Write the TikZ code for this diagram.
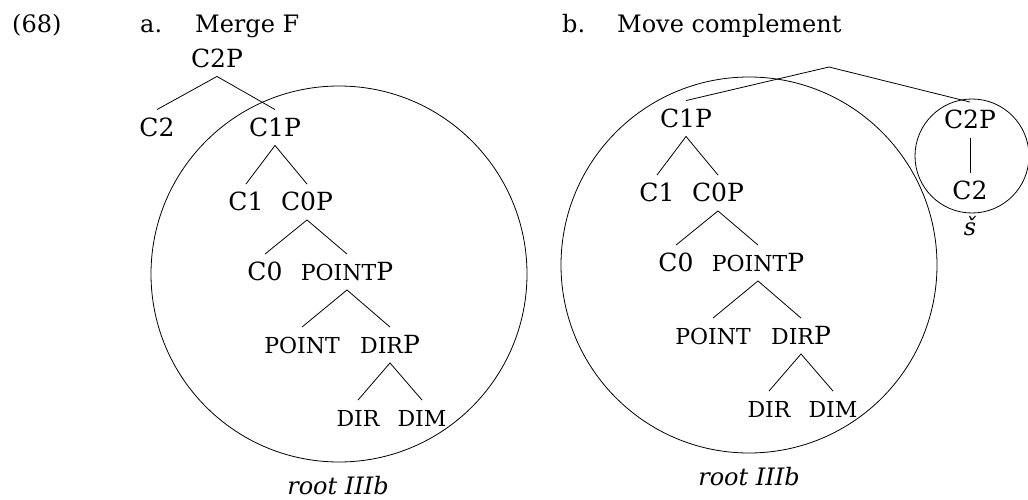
\documentclass[tikz,border=0pt]{standalone}
\usepackage{fontspec}
\setmainfont{DejaVu Serif}
\newcommand{\fsc}[1]{{\fontsize{22}{26}\selectfont #1}}

\tikzset{
  cat/.style={inner xsep=1pt, inner ysep=9pt, text height=17.5pt, text depth=0pt, font=\fontsize{25}{28}\selectfont},
  branch/.style={line width=0.8pt},
  ring/.style={line width=0.8pt}
}

\begin{document}
\begin{tikzpicture}[x=1pt,y=-1pt,font=\fontsize{24}{28}\selectfont]
        \useasboundingbox (0,0) rectangle (1028,500);
        % headings
        \node[anchor=base west,inner sep=0pt] (ex) at (12,33) {(68)};
        \node[anchor=base west,inner sep=0pt] (la) at (140,33) {a.};
        \node[anchor=base west,inner sep=0pt] (ta) at (195,33) {Merge F};
        \node[anchor=base west,inner sep=0pt] (lb) at (562,33) {b.};
        \node[anchor=base west,inner sep=0pt] (tb) at (617,33) {Move complement};
        % a. Merge F
        \node[cat] (aC2P) at (217,58.5) {C2P};
        \node[cat] (aC2) at (157,127.5) {C2};
        \node[cat] (aC1P) at (275,127.5) {C1P};
        \node[cat] (aC1) at (246,202) {C1};
        \node[cat] (aC0P) at (307,202) {C0P};
        \node[cat] (aC0) at (265,272) {C0};
        \node[cat] (aPointP) at (347,272) {\fsc{POINT}P};
        \node[cat] (aPoint) at (302,345) {\fsc{POINT}};
        \node[cat] (aDirP) at (390,345) {\fsc{DIR}P};
        \node[cat] (aDir) at (358,418) {\fsc{DIR}};
        \node[cat] (aDim) at (422,418) {\fsc{DIM}};
        \node (aRoot) at (338,486) {\itshape root IIIb};
        \draw[branch] (aC2.north) -- (aC2P.south) -- (aC1P.north);
        \draw[branch] (aC1.north) -- (aC1P.south) -- (aC0P.north);
        \draw[branch] (aC0.north) -- (aC0P.south) -- (aPointP.north);
        \draw[branch] (aPoint.north) -- (aPointP.south) -- (aDirP.north);
        \draw[branch] (aDir.north) -- (aDirP.south) -- (aDim.north);
        \draw[ring] (339,274) circle[radius=188];
        % b. Move complement
        \coordinate (bTop) at (829,67);
        \node[cat] (bC1P) at (686,118.5) {C1P};
        \node[cat] (bC1) at (657,193) {C1};
        \node[cat] (bC0P) at (718,193) {C0P};
        \node[cat] (bC0) at (676,263) {C0};
        \node[cat] (bPointP) at (758,263) {\fsc{POINT}P};
        \node[cat] (bPoint) at (713,336) {\fsc{POINT}};
        \node[cat] (bDirP) at (801,336) {\fsc{DIR}P};
        \node[cat] (bDir) at (769,409) {\fsc{DIR}};
        \node[cat] (bDim) at (833,409) {\fsc{DIM}};
        \node (bRoot) at (749,477) {\itshape root IIIb};
        \node[cat] (bC2P) at (970,120) {C2P};
        \node[cat] (bC2) at (970,191) {C2};
        \node (bS) at (970,226) {\itshape š};
        \draw[branch] (bC1P.north) -- (bTop) -- (bC2P.north);
        \draw[branch] (bC1.north) -- (bC1P.south) -- (bC0P.north);
        \draw[branch] (bC0.north) -- (bC0P.south) -- (bPointP.north);
        \draw[branch] (bPoint.north) -- (bPointP.south) -- (bDirP.north);
        \draw[branch] (bDir.north) -- (bDirP.south) -- (bDim.north);
        \draw[branch] (bC2P) -- (bC2);
        \draw[ring] (749,265) circle[radius=188];
        \draw[ring] (972,156) circle[radius=57];
      \end{tikzpicture}
\end{document}
